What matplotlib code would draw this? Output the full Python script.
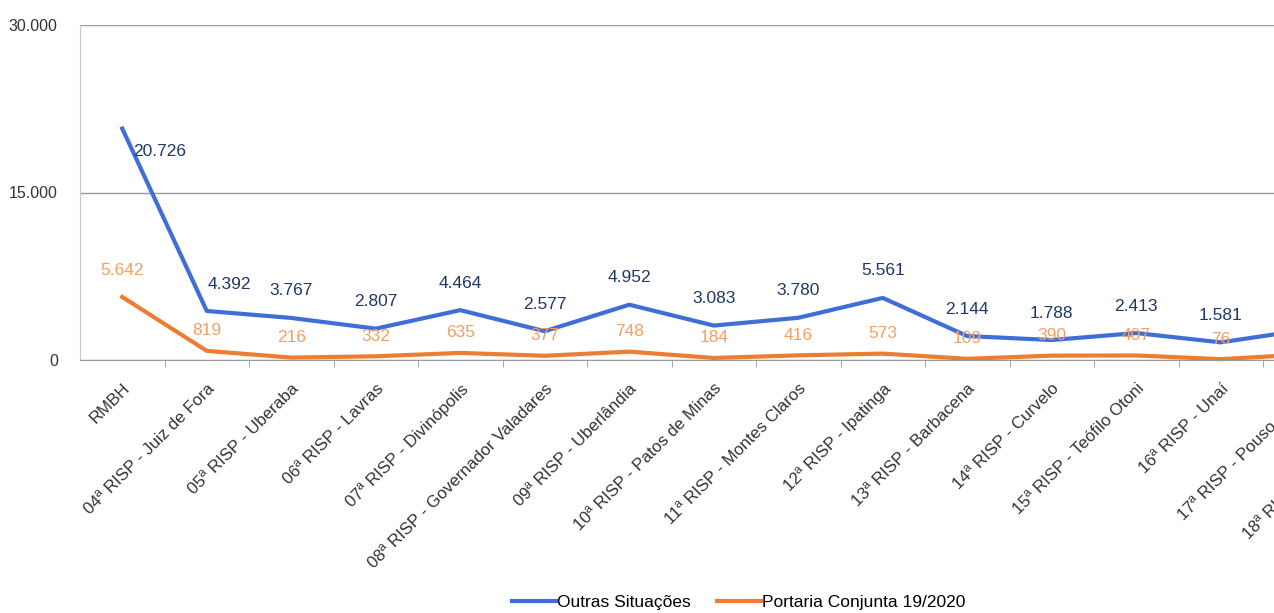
import numpy as np
import matplotlib.pyplot as plt
import matplotlib.ticker as mticker

# categorias (o grafico original esta cortado a direita)
categorias = ['RMBH', '04ª RISP - Juiz de Fora', '05ª RISP - Uberaba', '06ª RISP - Lavras',
              '07ª RISP - Divinópolis', '08ª RISP - Governador Valadares', '09ª RISP - Uberlândia',
              '10ª RISP - Patos de Minas', '11ª RISP - Montes Claros', '12ª RISP - Ipatinga',
              '13ª RISP - Barbacena', '14ª RISP - Curvelo', '15ª RISP - Teófilo Otoni',
              '16ª RISP - Unaí', '17ª RISP - Pouso Alegre', '18ª RISP - Poços de Caldas']
outras = [20726, 4392, 3767, 2807, 4464, 2577, 4952, 3083, 3780, 5561, 2144, 1788, 2413, 1581, 2700]
portaria = [5642, 819, 216, 332, 635, 377, 748, 184, 416, 573, 109, 390, 407, 76, 500]
yticks = [0, 15000, 30000]
n_visiveis = 14   # rotulos de dados que aparecem no recorte

AZUL = '#3f6fd6'
LARANJA = '#ed7d31'

plt.rcParams['font.family'] = ['Liberation Sans', 'DejaVu Sans']

fig = plt.figure(figsize=(12.74, 6.13), dpi=100)
n = len(categorias)
ax = fig.add_axes([80/1274, 253/613, n*84.5/1274, 335/613])

x1 = np.arange(len(outras))
x2 = np.arange(len(portaria))
ax.plot(x1, outras, color=AZUL, lw=3, label='Outras Situações', clip_on=False)
ax.plot(x2, portaria, color=LARANJA, lw=3, label='Portaria Conjunta 19/2020', clip_on=False)

def fmt(v):
    return '{:,}'.format(v).replace(',', '.')

for i, v in enumerate(outras[:n_visiveis]):
    dx, dy, ha = 0, 14, 'center'
    if i == 0:
        dx, dy, ha = 8, -22, 'left'
    elif i == 1:
        dx = 16
    ax.annotate(fmt(v), (i, v), xytext=(dx, dy), textcoords='offset points',
                ha=ha, va='bottom', fontsize=12.5, color='#1f3864')
for i, v in enumerate(portaria[:n_visiveis]):
    dy = 14 if i == 0 else 9
    ax.annotate(fmt(v), (i, v), xytext=(0, dy), textcoords='offset points',
                ha='center', va='bottom', fontsize=12.5, color='#f0a064')

ax.set_xlim(-0.5, n - 0.5)
ax.set_ylim(0, 30000)
ax.set_yticks(yticks)
ax.yaxis.set_major_formatter(mticker.FuncFormatter(lambda v, p: fmt(int(v))))
ax.tick_params(axis='y', length=0, labelsize=11.5, colors='#333333', pad=16)
ax.grid(axis='y', color='#9a9a9a', lw=1)
ax.set_axisbelow(True)

ax.set_xticks(np.arange(n))
ax.set_xticklabels(categorias, rotation=45, ha='right', rotation_mode='anchor',
                   fontsize=12.2, color='#333333')
ax.tick_params(axis='x', which='major', length=0, pad=15)
ax.set_xticks(np.arange(n) + 0.5, minor=True)
ax.tick_params(axis='x', which='minor', length=5, color='#9a9a9a')

for s in ['top', 'right']:
    ax.spines[s].set_visible(False)
ax.spines['left'].set_color('#c8c8c8')
ax.spines['bottom'].set_color('#9a9a9a')

fig.legend(loc='lower center', bbox_to_anchor=(0.58, -0.02), ncol=2, frameon=False,
           fontsize=12.5, handlelength=2.5, handletextpad=0.1, columnspacing=1.5)

fig.savefig('out.png', dpi=100)
